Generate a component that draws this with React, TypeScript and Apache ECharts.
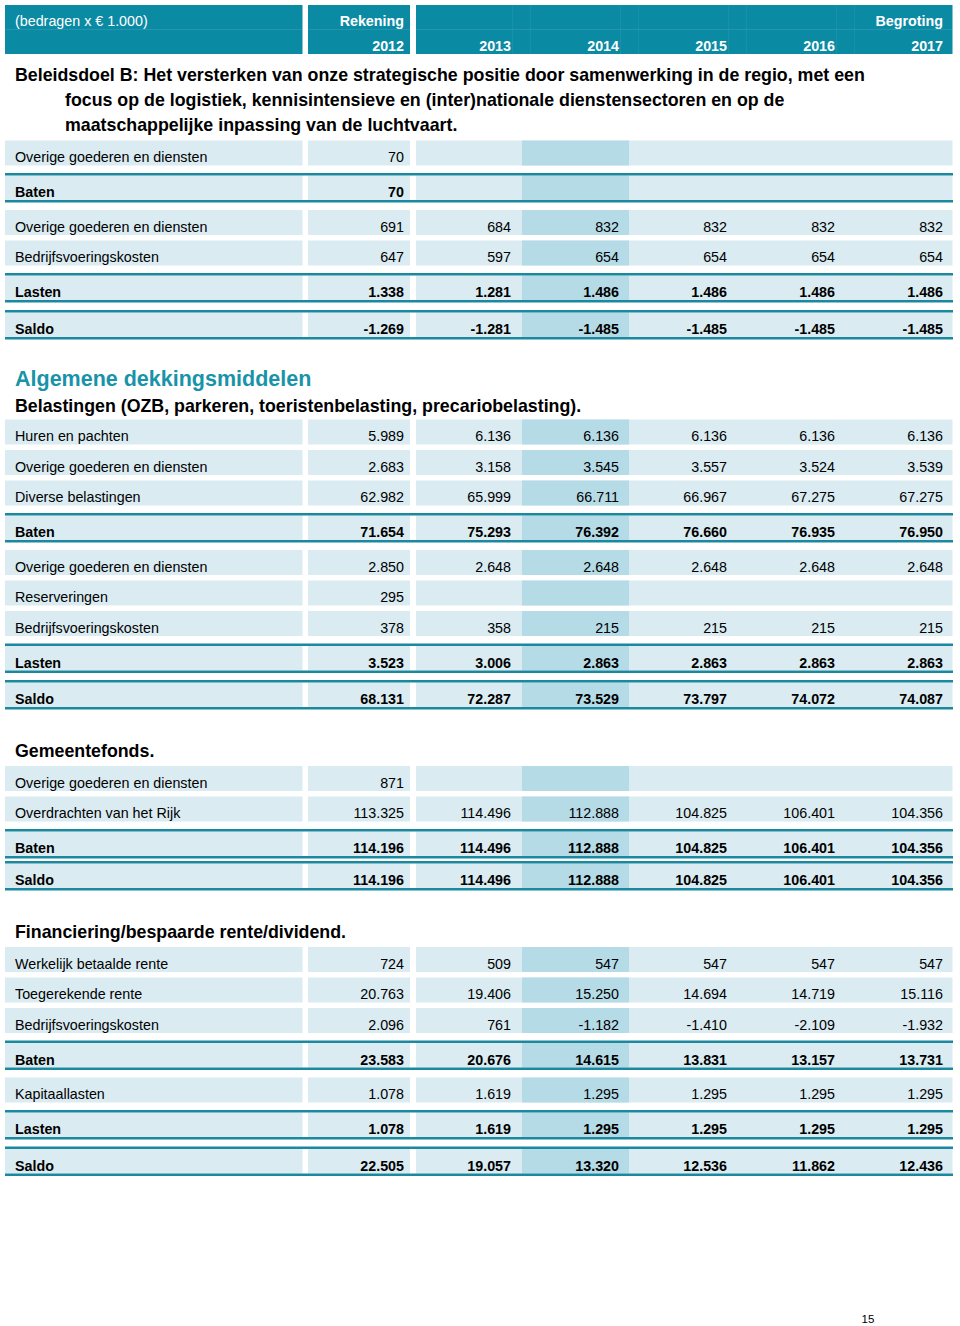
import React, { useEffect, useRef } from "react";
import * as echarts from "echarts";

// ---------- data ----------
const years = ["2012", "2013", "2014", "2015", "2016", "2017"];
const groupLabels = ["Rekening", "Begroting"];
const unitLabel = "(bedragen x € 1.000)";
const pageNumber = "15";

const sec1Heading = [
  "Beleidsdoel B: Het versterken van onze strategische positie door samenwerking in de regio, met een",
  "focus op de logistiek, kennisintensieve en (inter)nationale dienstensectoren en op de",
  "maatschappelijke inpassing van de luchtvaart.",
];
const sec1Labels = [
  "Overige goederen en diensten",
  "Baten",
  "Overige goederen en diensten",
  "Bedrijfsvoeringskosten",
  "Lasten",
  "Saldo",
];
const sec1Kinds = ["item", "total", "item", "item", "total", "total"];
const sec1Values: (number | null)[][] = [
  [70, null, null, null, null, null],
  [70, null, null, null, null, null],
  [691, 684, 832, 832, 832, 832],
  [647, 597, 654, 654, 654, 654],
  [1338, 1281, 1486, 1486, 1486, 1486],
  [-1269, -1281, -1485, -1485, -1485, -1485],
];

const sec2Title = "Algemene dekkingsmiddelen";
const sec2Heading = ["Belastingen (OZB, parkeren, toeristenbelasting, precariobelasting)."];
const sec2Labels = [
  "Huren en pachten",
  "Overige goederen en diensten",
  "Diverse belastingen",
  "Baten",
  "Overige goederen en diensten",
  "Reserveringen",
  "Bedrijfsvoeringskosten",
  "Lasten",
  "Saldo",
];
const sec2Kinds = ["item", "item", "item", "total", "item", "item", "item", "total", "total"];
const sec2Values: (number | null)[][] = [
  [5989, 6136, 6136, 6136, 6136, 6136],
  [2683, 3158, 3545, 3557, 3524, 3539],
  [62982, 65999, 66711, 66967, 67275, 67275],
  [71654, 75293, 76392, 76660, 76935, 76950],
  [2850, 2648, 2648, 2648, 2648, 2648],
  [295, null, null, null, null, null],
  [378, 358, 215, 215, 215, 215],
  [3523, 3006, 2863, 2863, 2863, 2863],
  [68131, 72287, 73529, 73797, 74072, 74087],
];

const sec3Heading = ["Gemeentefonds."];
const sec3Labels = ["Overige goederen en diensten", "Overdrachten van het Rijk", "Baten", "Saldo"];
const sec3Kinds = ["item", "item", "total", "total"];
const sec3Values: (number | null)[][] = [
  [871, null, null, null, null, null],
  [113325, 114496, 112888, 104825, 106401, 104356],
  [114196, 114496, 112888, 104825, 106401, 104356],
  [114196, 114496, 112888, 104825, 106401, 104356],
];

const sec4Heading = ["Financiering/bespaarde rente/dividend."];
const sec4Labels = [
  "Werkelijk betaalde rente",
  "Toegerekende rente",
  "Bedrijfsvoeringskosten",
  "Baten",
  "Kapitaallasten",
  "Lasten",
  "Saldo",
];
const sec4Kinds = ["item", "item", "item", "total", "item", "total", "total"];
const sec4Values: (number | null)[][] = [
  [724, 509, 547, 547, 547, 547],
  [20763, 19406, 15250, 14694, 14719, 15116],
  [2096, 761, -1182, -1410, -2109, -1932],
  [23583, 20676, 14615, 13831, 13157, 13731],
  [1078, 1619, 1295, 1295, 1295, 1295],
  [1078, 1619, 1295, 1295, 1295, 1295],
  [22505, 19057, 13320, 12536, 11862, 12436],
];

// ---------- layout / style ----------
const W = 960;
const H = 1326;
const FONT = '"Liberation Sans", Arial, Helvetica, sans-serif';
const TEAL_HEAD = "#0b8aa4";
const LIGHT = "#daecf2";
const DARK = "#b5dbe7";
const LINE = "#1a889e";
const TITLE = "#1893a9";
const INK = "#000000";
const BODY_SIZE = 14.3;
const HEAD_SIZE = 17.8;
const TITLE_SIZE = 21.5;

const X_LEFT = 5;
const X_LABEL_END = 302.5;
const X_2012 = 308;
const X_2012_END = 410;
const X_BLOCK = 416;
const X_DARK0 = 522;
const X_DARK1 = 629;
const X_RIGHT = 952.5;
const X_TEXT = 15;
const X_INDENT = 65;
const VALUE_RIGHT = [404, 511, 619, 727, 835, 943];
const HEAD_FAINT_X = [512, 530, 620, 638, 728, 746, 836, 854];

type Row = {
  kind: string;
  y: number;
  text?: string;
  values?: (number | null)[];
  indent?: boolean;
};

function fmt(n: number | null | undefined): string {
  if (n === null || n === undefined) return "";
  const s = Math.abs(n)
    .toString()
    .replace(/\B(?=(\d{3})+(?!\d))/g, ".");
  return (n < 0 ? "-" : "") + s;
}

function buildRows(): Row[] {
  const rows: Row[] = [];
  rows.push({ kind: "colhead", y: 5 });
  let bottom = 54;
  const sections = [
    { title: null as string | null, heading: sec1Heading, labels: sec1Labels, kinds: sec1Kinds, values: sec1Values, totalGap: 37 },
    { title: sec2Title, heading: sec2Heading, labels: sec2Labels, kinds: sec2Kinds, values: sec2Values, totalGap: 36.5 },
    { title: null, heading: sec3Heading, labels: sec3Labels, kinds: sec3Kinds, values: sec3Values, totalGap: 32 },
    { title: null, heading: sec4Heading, labels: sec4Labels, kinds: sec4Kinds, values: sec4Values, totalGap: 36.5 },
  ];
  sections.forEach((s, si) => {
    let y: number;
    if (si === 0) y = bottom + 21;
    else if (s.title) {
      y = bottom + 39;
      rows.push({ kind: "title", text: s.title, y });
      y += 27;
    } else y = bottom + 41;
    s.heading.forEach((h, hi) => {
      if (hi > 0) y += 25;
      rows.push({ kind: "heading", text: h, y, indent: hi > 0 });
    });
    let top = y + (s.title ? 14 : 15.5);
    let prev: string | null = null;
    s.labels.forEach((lab, i) => {
      const k = s.kinds[i];
      if (prev) {
        if (prev === "total") top += k === "total" ? s.totalGap : 37;
        else top += k === "total" ? 32.5 : 30.5;
      }
      rows.push({ kind: k, text: lab, values: s.values[i], y: top });
      prev = k;
    });
    bottom = top + (prev === "total" ? 29.5 : 25);
  });
  rows.push({ kind: "page", text: pageNumber, y: 1319 });
  return rows;
}

const ROWS = buildRows();

function renderRow(_params: any, api: any) {
  const r = ROWS[api.value(2)];
  const P = (x: number, y: number) => api.coord([x, y]);
  const rect = (x0: number, y0: number, x1: number, y1: number, fill: string) => {
    const a = P(x0, y0);
    const b = P(x1, y1);
    return {
      type: "rect",
      shape: { x: a[0], y: a[1], width: b[0] - a[0], height: b[1] - a[1] },
      style: { fill },
      silent: true,
    };
  };
  const text = (
    x: number,
    y: number,
    s: string,
    opts: { size?: number; weight?: string; fill?: string; align?: string } = {}
  ) => {
    const a = P(x, y);
    return {
      type: "text",
      silent: true,
      style: {
        text: s,
        x: a[0],
        y: a[1],
        fill: opts.fill || INK,
        fontSize: opts.size || BODY_SIZE,
        fontWeight: opts.weight || "normal",
        fontFamily: FONT,
        align: opts.align || "left",
        verticalAlign: "middle",
      },
    };
  };
  const children: any[] = [];

  if (r.kind === "colhead") {
    const t = r.y;
    const b = 54;
    children.push(rect(X_LEFT, t, X_LABEL_END, b, TEAL_HEAD));
    children.push(rect(X_2012, t, X_2012_END, b, TEAL_HEAD));
    children.push(rect(X_BLOCK, t, X_RIGHT, b, TEAL_HEAD));
    const faint = "rgba(255,255,255,0.10)";
    children.push(rect(X_LEFT, 29, X_LABEL_END, 30, faint));
    children.push(rect(X_2012, 29, X_2012_END, 30, faint));
    children.push(rect(X_BLOCK, 29, X_RIGHT, 30, faint));
    HEAD_FAINT_X.forEach((x) => children.push(rect(x, t, x + 1, b, "rgba(255,255,255,0.06)")));
    children.push(text(X_TEXT, 21, unitLabel, { fill: "#ffffff" }));
    children.push(text(VALUE_RIGHT[0], 21, groupLabels[0], { fill: "#ffffff", weight: "bold", align: "right" }));
    children.push(text(VALUE_RIGHT[5], 21, groupLabels[1], { fill: "#ffffff", weight: "bold", align: "right" }));
    years.forEach((yr, i) =>
      children.push(text(VALUE_RIGHT[i], 46, yr, { fill: "#ffffff", weight: "bold", align: "right" }))
    );
  } else if (r.kind === "heading") {
    children.push(text(r.indent ? X_INDENT : X_TEXT, r.y, r.text || "", { size: HEAD_SIZE, weight: "bold" }));
  } else if (r.kind === "title") {
    children.push(text(X_TEXT, r.y, r.text || "", { size: TITLE_SIZE, weight: "bold", fill: TITLE }));
  } else if (r.kind === "page") {
    children.push(text(868, r.y, r.text || "", { size: 11.5, align: "center" }));
  } else {
    const isTotal = r.kind === "total";
    const T = r.y;
    const y0 = isTotal ? T + 2.5 : T;
    const y1 = isTotal ? T + 27 : T + 25;
    const ty = isTotal ? T + 19 : T + 16.5;
    children.push(rect(X_LEFT, y0, X_LABEL_END, y1, LIGHT));
    children.push(rect(X_2012, y0, X_2012_END, y1, LIGHT));
    children.push(rect(X_BLOCK, y0, X_RIGHT, y1, LIGHT));
    children.push(rect(X_DARK0, y0, X_DARK1, y1, DARK));
    if (isTotal) {
      children.push(rect(X_LEFT, T, X_RIGHT + 0.5, T + 2.5, LINE));
      children.push(rect(X_LEFT, T + 27, X_RIGHT + 0.5, T + 29.5, LINE));
    }
    const weight = isTotal ? "bold" : "normal";
    children.push(text(X_TEXT, ty, r.text || "", { weight }));
    (r.values || []).forEach((v, i) => {
      const s = fmt(v);
      if (s) children.push(text(VALUE_RIGHT[i], ty, s, { weight, align: "right" }));
    });
  }
  return { type: "group", children };
}

export default function App() {
  const ref = useRef<HTMLDivElement>(null);
  useEffect(() => {
    document.body.style.margin = "0";
    document.body.style.background = "#ffffff";
    if (!ref.current) return;
    const chart = echarts.init(ref.current, undefined, { renderer: "svg", width: W, height: H });
    chart.setOption({
      animation: false,
      backgroundColor: "#ffffff",
      grid: { left: 0, right: 0, top: 0, bottom: 0, containLabel: false },
      xAxis: { type: "value", min: 0, max: W, show: false },
      yAxis: { type: "value", min: 0, max: H, inverse: true, show: false },
      series: [
        {
          type: "custom",
          coordinateSystem: "cartesian2d",
          clip: false,
          silent: true,
          encode: { x: 0, y: 1 },
          data: ROWS.map((r, i) => [0, r.y, i]),
          renderItem: renderRow,
        },
      ],
    });
    return () => chart.dispose();
  }, []);
  return <div ref={ref} style={{ width: W, height: H }} />;
}
